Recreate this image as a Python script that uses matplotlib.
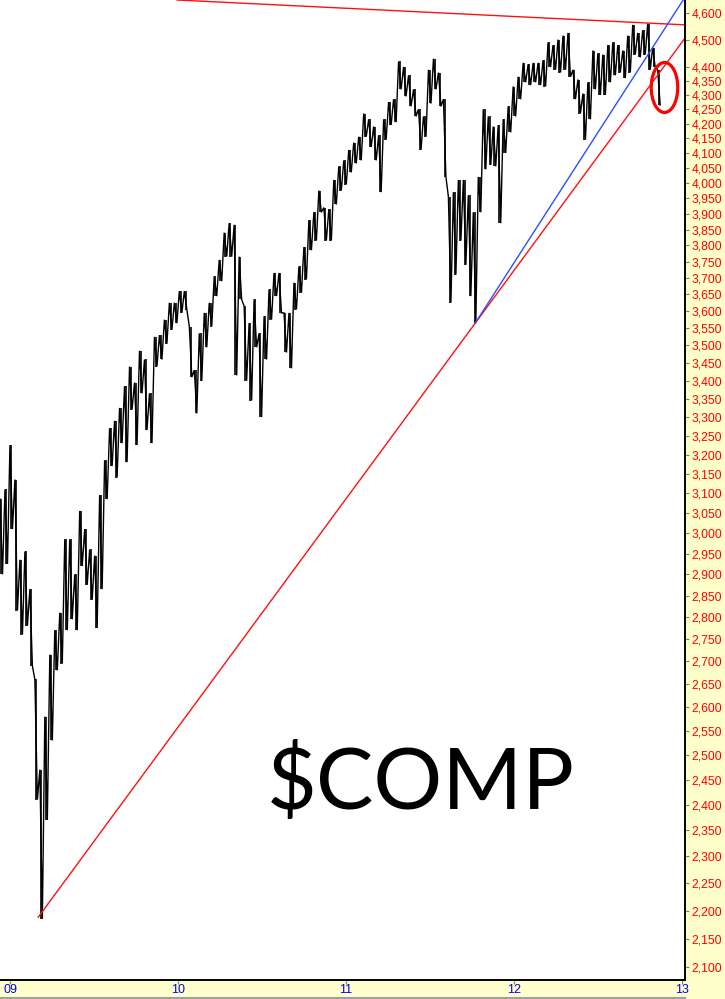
import matplotlib
matplotlib.use('Agg')
import matplotlib.pyplot as plt
import matplotlib.ticker as mticker
from matplotlib.path import Path
from matplotlib.transforms import Affine2D
from matplotlib.lines import Line2D
import numpy as np
import pandas as pd


# price swings: one high/low pair for roughly every 11 trading days
START = '2008-12-10'
END = '2012-11-14'

highs = [
    3085, 3110, 3225, 3135, 2935, 2955, 2865, 2660, 2470, 2580,
    2715, 2770, 2810, 2985, 2985, 2900, 3055, 3010, 2960, 2945,
    3095, 3185, 3270, 3290, 3325, 3385, 3440, 3395, 3485, 3460,
    3365, 3525, 3530, 3575, 3625, 3625, 3660, 3660, 3555, 3430,
    3535, 3595, 3625, 3705, 3755, 3840, 3870, 3865, 3765, 3615,
    3565, 3635, 3535, 3585, 3665, 3715, 3715, 3595, 3595, 3685,
    3735, 3795, 3880, 3905, 3975, 3920, 3915, 4010, 4055, 4075,
    4110, 4135, 4155, 4235, 4215, 4190, 4160, 4215, 4275, 4285,
    4420, 4400, 4370, 4320, 4250, 4225, 4390, 4430, 4380, 4285,
    3955, 3970, 4010, 4010, 3960, 3905, 4020, 4250, 4225, 4190,
    4195, 4215, 4260, 4330, 4365, 4415, 4410, 4415, 4415, 4425,
    4490, 4480, 4500, 4515, 4525, 4390, 4355, 4305, 4345, 4460,
    4450, 4445, 4480, 4490, 4480, 4460, 4515, 4555, 4525, 4535,
    4560, 4470, 4390,
]
lows = [
    2900, 2925, 3010, 2815, 2760, 2780, 2690, 2410, 2185, 2370,
    2530, 2680, 2695, 2770, 2795, 2770, 2920, 2875, 2840, 2775,
    2865, 3085, 3170, 3140, 3230, 3180, 3320, 3225, 3365, 3265,
    3230, 3440, 3460, 3505, 3545, 3565, 3595, 3605, 3410, 3310,
    3400, 3495, 3555, 3645, 3690, 3765, 3765, 3415, 3635, 3400,
    3345, 3495, 3300, 3460, 3575, 3645, 3595, 3480, 3435, 3605,
    3655, 3695, 3785, 3815, 3905, 3815, 3815, 3930, 3975, 3995,
    4035, 4065, 4075, 4155, 4120, 4075, 3970, 4145, 4195, 4205,
    4320, 4295, 4260, 4225, 4110, 4155, 4270, 4320, 4260, 4020,
    3625, 3710, 3815, 3740, 3645, 3565, 3905, 4045, 4060, 4055,
    3870, 4100, 4170, 4225, 4285, 4345, 4335, 4345, 4335, 4330,
    4400, 4390, 4380, 4390, 4365, 4285, 4235, 4145, 4215, 4320,
    4300, 4300, 4345, 4370, 4380, 4360, 4380, 4445, 4435, 4445,
    4390, 4400, 4265,
]

price_ticks = [v for v in range(2100, 4650, 50) if v not in (4450, 4550)]
year_ticks = ['2009-01-01', '2010-01-01', '2011-01-01', '2012-01-01', '2013-01-01']
year_labels = ['09', '10', '11', '12', '13']

# hand drawn trend lines (date, price) and the circled spot
upper_red_dates = ['2009-12-30', '2013-01-07']
upper_red_prices = [4649, 4555]
lower_red_dates = ['2009-03-03', '2013-01-07']
lower_red_prices = [2188, 4506]
blue_dates = ['2011-10-09', '2013-01-03']
blue_prices = [3565, 4649]
circle_date = '2012-11-22'
circle_price = 4328

BG = '#FFFFCC'

plt.rcParams['font.family'] = ['Liberation Sans', 'DejaVu Sans']

fig = plt.figure(figsize=(7.25, 9.99), dpi=100, facecolor=BG)
ax = fig.add_axes([0, 1 - 980 / 999, 685 / 725, 980 / 999])
ax.set_facecolor('white')

# zigzag through high, low, high, low ... plus a bar for every high/low pair
dates = pd.date_range(START, END, periods=2 * len(highs))
values = np.column_stack([highs, lows]).ravel()
ax.plot(dates, values, color='black', lw=1.0, solid_joinstyle='miter')
bar_dates = dates[::2] + (dates[1] - dates[0]) / 2
ax.vlines(bar_dates, lows, highs, color='black', lw=1.2)

ax.plot(pd.to_datetime(upper_red_dates), upper_red_prices, color='#FF1010', lw=1.0)
ax.plot(pd.to_datetime(lower_red_dates), lower_red_prices, color='#FF1010', lw=1.0)
ax.plot(pd.to_datetime(blue_dates), blue_prices, color='#2850FF', lw=1.0)

ellipse = Path.unit_circle().transformed(Affine2D().scale(26 / 49, 1))
ax.plot([pd.Timestamp(circle_date)], [circle_price], marker=ellipse, ms=36,
        mfc='none', mec='#FF0000', mew=2.3, ls='none')

ax.set_yscale('log')
ax.set_ylim(2078, 4649)
ax.set_xlim(pd.Timestamp('2008-12-10'), pd.Timestamp('2013-01-07'))

ax.yaxis.tick_right()
ax.yaxis.set_major_locator(mticker.FixedLocator(price_ticks))
ax.yaxis.set_major_formatter(mticker.FuncFormatter(lambda v, p: f'{v:,.0f}'))
ax.yaxis.set_minor_locator(mticker.NullLocator())
ax.yaxis.set_minor_formatter(mticker.NullFormatter())
ax.tick_params(axis='y', which='major', length=3, width=0.8, color='#808080',
               labelcolor='#FF0000', labelsize=8.7, pad=1.5)

ax.set_xticks(pd.to_datetime(year_ticks))
ax.set_xticklabels(year_labels)
ax.tick_params(axis='x', which='major', length=3, width=0.8, color='#808080',
               labelcolor='#0000FF', labelsize=9, pad=0)

for side in ['left', 'top']:
    ax.spines[side].set_visible(False)
for side in ['bottom', 'right']:
    ax.spines[side].set_color('black')
    ax.spines[side].set_linewidth(1.4)

fig.text(421 / 725, 1 - 809 / 999, r'\$COMP', fontsize=62, family='Lato',
         ha='center', va='baseline', color='black')

fig.add_artist(Line2D([0, 685 / 725], [1.2 / 999, 1.2 / 999], color='#A0A0A0', lw=1.5))

fig.savefig('out.png', dpi=100, facecolor=BG)
